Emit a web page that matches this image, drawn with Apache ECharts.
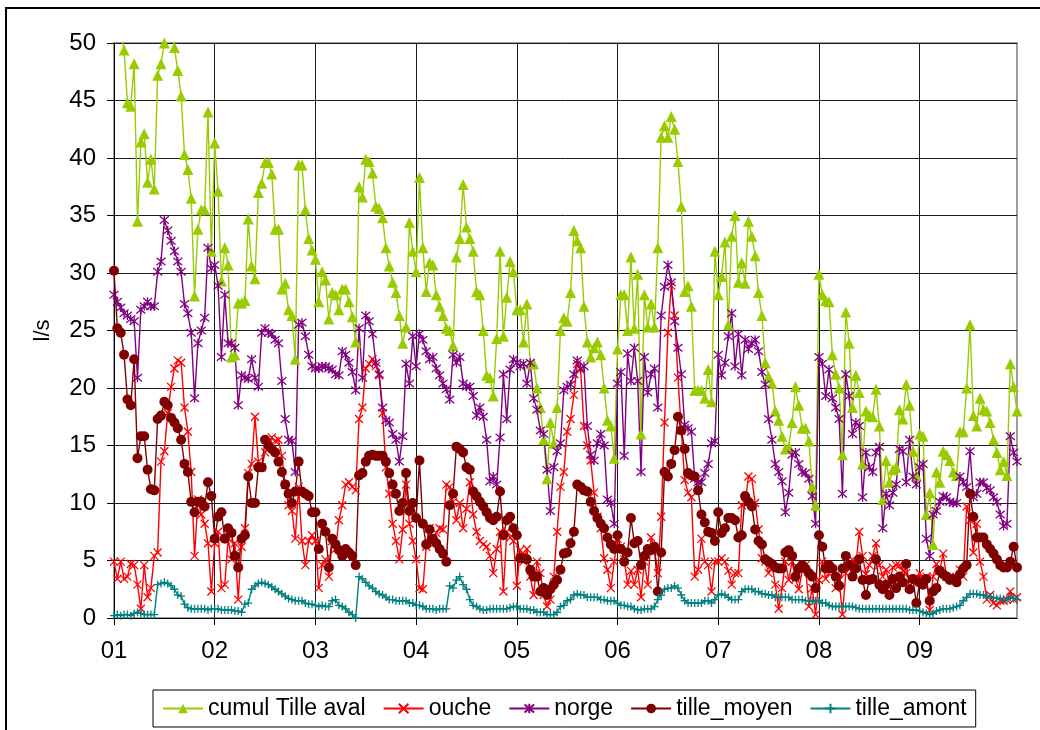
<!DOCTYPE html>
<html>
<head>
<meta charset="utf-8">
<script src="https://cdn.jsdelivr.net/npm/echarts@6/dist/echarts.min.js"></script>
<style>
    html, body { margin: 0; padding: 0; background: #fff; }
    #chart { width: 1040px; height: 730px; }
</style>
</head>
<body>
<div id="chart"></div>
<script>
// one row per month, 30 readings each
var monthLabels = ['01', '02', '03', '04', '05', '06', '07', '08', '09'];
var daysPerMonth = 30;
var yTicks = [0, 5, 10, 15, 20, 25, 30, 35, 40, 45, 50];

var cumulTilleAval = [
    53, 52, 51, 49.4, 44.8, 44.5, 48.2, 34.5, 41.4, 42.1, 37.9, 39.9, 37.3, 47.2, 48.2, 50, 53, 52, 49.6, 47.6, 45.4, 40.3, 39, 36.5, 28, 33.8, 35.5, 35.5, 44, 31.9,
    41.3, 37.1, 29.3, 32.2, 30.7, 22.7, 22.9, 27.4, 27.4, 27.6, 34.7, 30.6, 29.5, 37, 37.8, 39.6, 39.6, 38.6, 33.8, 33.8, 28.6, 29.1, 26.8, 26.3, 22.5, 39.4, 39.4, 35.5, 33, 32,
    31.2, 27.5, 30.1, 29.4, 26, 28.3, 28.1, 26.8, 28.6, 28.6, 27.5, 26.2, 24, 37.5, 36.6, 39.9, 39.7, 38.7, 35.8, 35.6, 34.8, 32.2, 30.6, 29.2, 28.3, 26.3, 23.9, 25.3, 34.4, 31.9,
    30.1, 38.3, 32.2, 28.4, 30.9, 30.7, 28.1, 27.1, 26.3, 25.2, 25, 23.7, 31.4, 33, 37.7, 34, 33, 31.9, 28.4, 28.1, 25, 21.1, 20.9, 19.3, 24.3, 31.9, 24.5, 27.9, 31, 30.1,
    26.8, 26.8, 24, 27.3, 22.1, 22.1, 20, 18.3, 15.5, 12.1, 17, 15.2, 18.3, 25, 26.1, 25.8, 28.3, 33.7, 32.8, 32.2, 27.1, 24, 22.7, 23.5, 24, 22.9, 20, 17.2, 16.7, 13.9,
    23.4, 28.1, 28.1, 25, 31.4, 25.2, 29.9, 16, 28.1, 25.3, 27.3, 25.3, 32.2, 41.8, 42.8, 41.8, 43.6, 42.5, 39.7, 35.8, 28.4, 28.9, 27.1, 19.8, 19.8, 19.8, 19.1, 21.6, 18.8, 31.9,
    28.1, 29.7, 32.7, 25.5, 33.2, 35, 29.2, 30.9, 29.1, 34.5, 33.2, 31.5, 28.3, 26.3, 22.2, 21, 20.4, 18, 17.2, 15.8, 14.7, 14.9, 17, 20.1, 18.5, 16.5, 16.5, 15.4, 11.4, 9.8,
    29.9, 28.1, 27.6, 27.5, 22.9, 21.2, 20, 14.2, 26.6, 23.9, 18.3, 21.1, 19.6, 13.4, 18, 17.6, 17.5, 19.9, 16.7, 10.3, 13.7, 11.8, 12.9, 13.1, 18.1, 17.3, 20.3, 18.5, 14.5, 12.4,
    16, 15.8, 9, 10.9, 6.4, 12.7, 11.8, 14.5, 14.2, 13.7, 12.7, 12.4, 16.2, 16.2, 20, 25.5, 17.6, 16.7, 19.1, 18.1, 18, 17, 15.5, 14.4, 12.9, 13.6, 12.4, 22.1, 20.1, 18
];

var ouche = [
    4.9, 3.4, 4.9, 3.4, 3.6, 4.7, 4.6, 2.9, 0.8, 4.6, 1.8, 2.6, 5.4, 5.7, 13.6, 14.5, 17.8, 20.1, 21.7, 22.4, 22.2, 18.3, 16.2, 12.7, 5.4, 10.3, 9, 8.2, 6.5, 2.3,
    6.5, 7.5, 2.6, 2.9, 6.9, 5.1, 6.5, 1.6, 6.2, 7.8, 12.6, 13.4, 17.5, 13.6, 13.1, 14.4, 15.2, 15.7, 15.4, 15.5, 14.1, 11.6, 9.8, 9.3, 6.9, 11.4, 6.7, 4.6, 6.7, 7.2,
    6.7, 2.6, 4.6, 5.1, 3.6, 6.7, 6, 8.5, 9.8, 11.6, 11.8, 11.4, 11.1, 17.3, 18.3, 21.7, 22.1, 22.5, 21.9, 21.1, 17.8, 13.1, 10.8, 8.2, 6.7, 5.1, 7.7, 11.6, 8.2, 6.7,
    5.1, 2.6, 2.5, 6.2, 7.8, 6.4, 7.4, 7.8, 7.7, 11.6, 11.4, 10.1, 8.5, 10, 7.8, 9.5, 11.8, 9, 7.5, 6.7, 6.4, 6.2, 5.4, 3.9, 6, 7.5, 2.3, 7.5, 7, 6.7,
    2.8, 5.9, 4.9, 6, 3.6, 2, 4.9, 3.9, 2, 1, 1.6, 3.6, 7.5, 11.4, 12.7, 16.2, 17.3, 19.4, 22.1, 21.6, 16.7, 15, 13.7, 10.9, 8.8, 7.8, 5.2, 4.2, 2.6, 4.9,
    6.9, 6.2, 5.1, 2.9, 4.1, 2.9, 4.2, 1.8, 4.9, 2.9, 7, 6, 3.9, 8.8, 17, 24.8, 28.9, 26.3, 20.9, 16.3, 12, 10.9, 10.5, 3.6, 4.2, 6.9, 4.9, 4.6, 2.3, 4.9,
    4.9, 5.2, 4.9, 4.1, 2.9, 3.9, 3.9, 9.8, 10, 12.3, 12.1, 10, 7.7, 5.2, 4.9, 3.9, 4.6, 2.9, 0.8, 2.6, 4.9, 3.3, 4.9, 3.4, 2.5, 4.1, 4.6, 1, 2.6, 0.3,
    3.3, 4.9, 3.4, 3.9, 4.2, 2.6, 3.3, 0.3, 3.9, 4.4, 5.1, 4.6, 7.5, 5.4, 3.8, 4.6, 5.4, 6.5, 4.6, 3.6, 4.2, 2.9, 4.4, 4.6, 4.6, 4.1, 3.9, 3.4, 3.1, 3.4,
    3.9, 3.4, 3.6, 0.7, 3.6, 4.7, 4.1, 5.6, 3.6, 3.6, 3.3, 3.4, 4.2, 3.6, 9.7, 8.5, 5.7, 8.2, 4.9, 3.6, 1.6, 2, 1.3, 1.1, 1.5, 1.5, 1.6, 2.3, 1.6, 1.8
];

var norge = [
    28.1, 27.5, 27, 26.5, 26.3, 26, 25.8, 20.9, 26.8, 27.1, 27.5, 27.1, 27.1, 30.1, 31, 34.6, 33.7, 32.8, 31.9, 31, 30.1, 27.3, 26.5, 24.8, 19.1, 23.9, 25, 26.1, 32.2, 30.4,
    30.7, 28.9, 22.7, 28.1, 23.9, 23.9, 23.5, 18.5, 21.1, 20.9, 20.8, 22.5, 20.9, 20.1, 24.8, 25.2, 24.8, 24.7, 24.2, 23.9, 20.6, 17.3, 15.5, 15.4, 12.7, 25.5, 25.7, 24.5, 22.9, 21.9,
    21.7, 21.7, 21.9, 21.9, 21.7, 21.6, 21.2, 21.1, 23.2, 22.9, 22.2, 21.4, 19.8, 25.2, 20.9, 26.3, 25.8, 24.7, 22.2, 21.2, 18.3, 17.2, 17, 16, 15.5, 13.6, 15.8, 22.1, 20.4, 24.5,
    21.9, 24.7, 24.2, 23.2, 22.5, 22.7, 21.7, 21.1, 20.4, 19.9, 19, 22.9, 22.2, 22.7, 20.4, 20.1, 20.1, 19.3, 17.6, 18.3, 17.5, 15.5, 11.9, 12.3, 11.6, 15.7, 21.2, 17.3, 21.6, 22.5,
    22.2, 21.9, 22.1, 20.4, 22.2, 19.1, 18.1, 16.3, 16, 12.9, 9.3, 13.1, 14.5, 15.2, 19.8, 20.1, 20.3, 21.2, 22.4, 21.7, 21.9, 16.7, 14.2, 13.7, 15.2, 16, 15, 10.3, 10, 8.2,
    20.4, 21.4, 14.1, 23, 20.6, 23.5, 20.6, 12.7, 22.7, 19.6, 21.2, 21.7, 18.3, 26.3, 28.8, 30.7, 29.2, 25.8, 23.5, 21.2, 16.8, 16.5, 16.2, 12.1, 11.8, 11.8, 12.6, 13.4, 15.2, 15.4,
    22.9, 21.1, 22.2, 24.5, 26.5, 21.9, 24.7, 21.1, 24.2, 23.4, 23.9, 24.2, 23.2, 21.4, 20.3, 17.3, 15.5, 13.4, 12.7, 11.9, 9.2, 10.9, 14.2, 14.4, 13.4, 12.7, 12.6, 12.1, 10.6, 8.2,
    22.7, 22.1, 19.3, 21.6, 19.1, 18.3, 17.3, 10.8, 21.2, 19.3, 16, 17, 16.7, 10.5, 14.4, 13.1, 12.7, 14.4, 14.9, 7.8, 10.8, 9.8, 10.9, 11.6, 14.7, 14.5, 11.8, 15.5, 12.3, 11.6,
    13.1, 13.4, 6.9, 5.4, 9, 9.3, 10.1, 10.6, 10.5, 10.1, 10, 10, 12.3, 11.8, 11.4, 14.5, 10.5, 10.8, 11.8, 11.8, 11.3, 11.1, 10.5, 10.1, 9, 8, 8.2, 15.8, 14.4, 13.6
];

var tilleMoyen = [
    30.2, 25.2, 24.8, 22.9, 19, 18.5, 22.5, 13.9, 15.8, 15.8, 12.9, 11.2, 11.1, 17.3, 17.6, 18.8, 18.5, 17.4, 17, 16.5, 15.5, 13.4, 12.7, 10.1, 9.2, 10.1, 10.1, 9.7, 11.8, 10.6,
    6.9, 8.8, 9.2, 6.9, 7.8, 7.4, 5.4, 4.4, 6.9, 7.2, 12.3, 10, 10, 13.1, 13.1, 15.5, 15, 14.7, 14.4, 13.6, 12.7, 11.6, 10.8, 10, 11, 13.6, 11, 10.8, 10.6, 9.2,
    9.2, 6, 8.2, 7.5, 4.4, 6.9, 6.4, 5.9, 5.4, 6, 5.7, 5.4, 4.6, 12.4, 12.6, 13.6, 14.1, 14.2, 14.1, 14.1, 14.1, 13.6, 12.6, 11.6, 10.8, 9.3, 10, 12.6, 9.3, 10,
    8.7, 13.7, 8.2, 6.4, 7.7, 6.9, 6.5, 6, 5.6, 4.9, 9.8, 10.8, 14.9, 14.7, 14.4, 13.1, 12.9, 11, 10.6, 10.1, 9.7, 9.2, 8.7, 8.5, 8.8, 11, 7.2, 8.5, 8.8, 7.8,
    7.2, 5.2, 5.2, 5.1, 4.2, 3.6, 3.6, 2.3, 2.6, 2, 2.5, 2.9, 3.3, 4.2, 5.6, 5.7, 6.5, 7.5, 11.6, 11.4, 11.1, 11, 10.1, 9.3, 8.7, 8.2, 7.8, 7, 6.4, 6,
    7.2, 6, 4.9, 5.7, 8.7, 6.5, 6.7, 4.6, 5.4, 6, 5.9, 6.2, 2.3, 5.7, 12.7, 12.3, 13.4, 14.6, 17.5, 16.3, 14.7, 12.6, 12.4, 12.3, 11.1, 9, 8.3, 7.5, 7.4, 6.7,
    9.2, 7.4, 7.8, 8.7, 8.7, 8.5, 7, 7.2, 10.6, 10.1, 9.7, 7.7, 6.7, 6.4, 5.1, 4.9, 4.7, 4.4, 4.3, 4.3, 5.7, 5.9, 5.4, 3.6, 4.3, 4.6, 4.3, 3.9, 3.6, 2.6,
    7.2, 6.2, 4.3, 4.6, 4.3, 3.6, 2.8, 4.3, 5.4, 4.6, 3.6, 4.3, 5.1, 3.3, 2, 3.3, 3.4, 5.1, 2.9, 2.5, 2.9, 2, 3.4, 2.6, 3.6, 3.1, 4.7, 2.5, 3.4, 1.3,
    3.1, 2.9, 3.4, 1.5, 2.3, 2.6, 4.1, 3.8, 3.6, 3.3, 3.4, 3.1, 3.8, 4.3, 4.6, 10.8, 8.8, 7, 7, 7, 6.4, 6, 5.6, 5.1, 4.6, 4.4, 4.4, 4.9, 6.2, 4.4
];

var tilleAmont = [
    0.2, 0.3, 0.2, 0.3, 0.3, 0.2, 0.4, 0.5, 0.4, 0.3, 0.3, 0.3, 0.3, 2.9, 3, 3.1, 3, 2.8, 2.5, 2, 1.9, 1.2, 0.9, 0.8, 0.8, 0.8, 0.8, 0.8, 0.7, 0.8,
    0.8, 0.8, 0.7, 0.7, 0.7, 0.7, 0.6, 0.6, 0.5, 1.2, 1.3, 2.5, 2.8, 3, 3.1, 3, 2.9, 2.7, 2.5, 2.3, 2.1, 1.9, 1.7, 1.6, 1.5, 1.5, 1.5, 1.3, 1.2, 1.2,
    1.1, 1, 1.1, 1, 1, 1.5, 1.6, 1.1, 1, 0.8, 0.5, 0.3, 0, 3.6, 3.4, 3.1, 2.8, 2.6, 2.3, 2.1, 2, 1.8, 1.6, 1.6, 1.5, 1.5, 1.5, 1.5, 1.3, 1.3,
    1.1, 1.1, 1, 0.8, 0.8, 0.8, 0.7, 0.8, 0.8, 0.8, 2.8, 2.6, 3.3, 3.6, 2.9, 2.5, 1.6, 1.1, 1, 0.8, 0.7, 0.7, 0.8, 0.8, 0.8, 0.8, 0.8, 0.8, 0.9, 1,
    1, 0.8, 0.8, 0.8, 0.7, 0.7, 0.5, 0.5, 0.5, 0.3, 0.3, 0.3, 0.5, 1, 1.1, 1.5, 1.6, 2, 2.1, 2, 2, 1.8, 1.8, 1.8, 1.8, 1.6, 1.6, 1.5, 1.5, 1.5,
    1.3, 1.1, 1.1, 1, 1, 0.8, 0.7, 0.7, 0.8, 0.8, 0.8, 1, 1.6, 2, 2.5, 2.6, 2.6, 2.8, 2.6, 2, 1.5, 1.3, 1.3, 1.3, 1.3, 1.3, 1.5, 1.5, 1.3, 1.6,
    2, 2.1, 2, 1.8, 1.6, 1.6, 1.6, 2.3, 2.5, 2.5, 2.5, 2.3, 2.3, 2.1, 2.1, 2, 2, 1.8, 1.8, 1.8, 1.8, 1.8, 1.6, 1.6, 1.6, 1.6, 1.5, 1.5, 1.5, 1.5,
    1.5, 1.3, 1.3, 1.1, 1, 1, 1, 1, 1, 1, 1, 0.9, 0.8, 0.8, 0.8, 0.8, 0.8, 0.8, 0.8, 0.8, 0.8, 0.8, 0.8, 0.8, 0.8, 0.8, 0.8, 0.7, 0.7, 0.7,
    0.6, 0.5, 0.4, 0.3, 0.4, 0.6, 0.7, 0.8, 0.8, 0.8, 0.9, 1, 1.1, 1.5, 1.8, 2.1, 2.1, 2.1, 2, 2, 1.9, 1.8, 1.8, 1.7, 1.7, 1.6, 1.6, 1.8, 1.7, 1.6
];

// category per reading, "MM/n"; only the first of each month is labelled
var days = [];
monthLabels.forEach(function (m) {
    for (var d = 1; d <= daysPerMonth; d++) {
        days.push(m + '/' + d);
    }
});

var font = 'Liberation Sans, Arial, sans-serif';
var crossPath = 'path://M0,0L10,10M10,0L0,10';
var starPath = 'path://M0,0L10,10M10,0L0,10M5,-1L5,11';
var plusPath = 'path://M5,0L5,10M0,5L10,5';

function isMonthStart(index) {
    return index % daysPerMonth === 0;
}

function lineSeries(name, data, color, symbol, size, stroked) {
    return {
        name: name,
        type: 'line',
        data: data,
        symbol: symbol,
        symbolSize: size,
        showAllSymbol: true,
        lineStyle: { color: color, width: 1.4 },
        itemStyle: {
            color: color,
            borderColor: color,
            borderWidth: stroked ? 1.3 : 0
        },
        emphasis: { disabled: true }
    };
}

var chart = echarts.init(document.getElementById('chart'));
chart.setOption({
    animation: false,
    backgroundColor: '#fff',
    textStyle: { fontFamily: font },
    graphic: [{
        type: 'rect',
        shape: { x: 6, y: 8, width: 1100, height: 800 },
        style: { fill: null, stroke: '#000', lineWidth: 2 },
        silent: true
    }],
    grid: {
        left: 114, right: 23, top: 43, bottom: 112,
        show: true, borderColor: '#808080', borderWidth: 1.5
    },
    legend: {
        left: 153, top: 690,
        padding: [7, 9, 7, 9],
        itemWidth: 40, itemHeight: 12, itemGap: 17,
        borderColor: '#000', borderWidth: 1,
        textStyle: { fontSize: 23, color: '#000', fontFamily: font },
        data: ['cumul Tille aval', 'ouche', 'norge', 'tille_moyen', 'tille_amont']
    },
    xAxis: {
        type: 'category',
        data: days,
        boundaryGap: false,
        axisLine: { lineStyle: { color: '#000', width: 1 } },
        axisTick: { interval: isMonthStart, length: 7, lineStyle: { color: '#000' } },
        axisLabel: {
            interval: isMonthStart, margin: 21, fontSize: 24, color: '#000', fontFamily: font,
            formatter: function (v) { return v.split('/')[0]; }
        },
        splitLine: { show: true, interval: isMonthStart, lineStyle: { color: '#1a1a1a', width: 1 } }
    },
    yAxis: {
        type: 'value',
        min: yTicks[0], max: yTicks[yTicks.length - 1], interval: yTicks[1] - yTicks[0],
        name: 'l/s', nameLocation: 'middle', nameGap: 60,
        nameTextStyle: { fontSize: 22, color: '#000', fontFamily: font },
        axisLine: { show: true, lineStyle: { color: '#000', width: 1 } },
        axisTick: { show: true, length: 7, lineStyle: { color: '#000' } },
        axisLabel: { margin: 18, fontSize: 24, color: '#000', fontFamily: font },
        splitLine: { lineStyle: { color: '#1a1a1a', width: 1 } }
    },
    series: [
        lineSeries('cumul Tille aval', cumulTilleAval, '#99CC00', 'triangle', 11, false),
        lineSeries('ouche', ouche, '#FF0000', crossPath, 8, true),
        lineSeries('norge', norge, '#800080', starPath, 9, true),
        lineSeries('tille_moyen', tilleMoyen, '#800000', 'circle', 10, false),
        lineSeries('tille_amont', tilleAmont, '#008080', plusPath, 8, true)
    ]
});
</script>
</body>
</html>
